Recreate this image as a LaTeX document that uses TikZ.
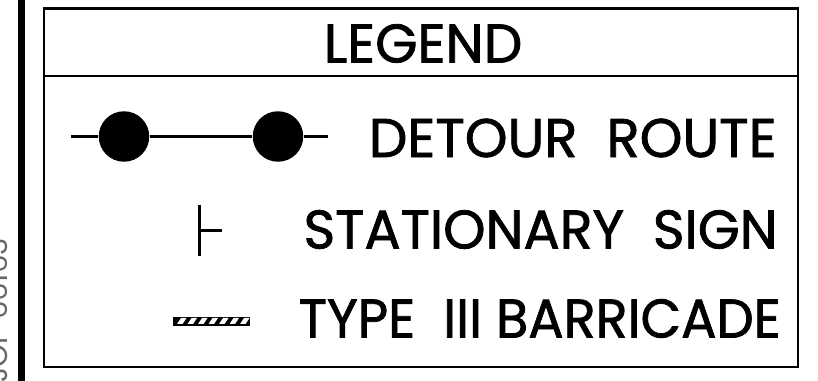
\documentclass[tikz,border=0pt]{standalone}
\usepackage{fontspec}
\setmainfont{Poppins}
\newfontfamily\legendfont[FakeBold=1.4]{Poppins}
\usetikzlibrary{positioning,patterns}
\tikzset{
	legendtext/.style={inner sep=0pt,font=\legendfont\fontsize{31}{31}\selectfont},
	routedot/.style={circle,fill=black,inner sep=0pt,minimum size=1.01cm},
	frameline/.style={line width=1.2pt}
}
\begin{document}
\begin{tikzpicture}[x=0.02cm,y=-0.02cm]
	\useasboundingbox (0,0) rectangle (818,381);
	\fill (18,0) rectangle (24.5,381);
	\node (jobno) at (8,383) [rotate=90,anchor=base west,inner sep=0pt,text=black!60,font=\fontsize{16.5}{16.5}\selectfont] {JOP 66163};
	\draw[frameline] (44,8.5) rectangle (798,367);
	\draw[frameline] (44,76) -- (798,76);
	\node (title) at (423,43.5) [legendtext] {LEGEND};
	\node (detour) at (777,138) [legendtext,anchor=east] {DETOUR\ \ ROUTE};
	\node (stationary) at (778,229.5) [legendtext,anchor=east] {\scalebox{0.99}[1]{STATIONARY\ \ SIGN}};
	\node (barricade) at (781,318.5) [legendtext,anchor=east] {\scalebox{0.965}[1]{TYPE\ \ III BARRICADE}};
	\coordinate (routeL) at (71,136.5);
	\coordinate (routeR) at (328,136.5);
	\node (dotA) at (124,136.5) [routedot] {};
	\node (dotB) at (278,136.5) [routedot] {};
	\draw[frameline] (routeL)--(dotA);
	\draw[frameline] (dotA)--(dotB);
	\draw[frameline] (dotB)--(routeR);
	\coordinate (postT) at (199.5,205);
	\coordinate (postB) at (199.5,256);
	\coordinate (postM) at (199.5,230.5);
	\coordinate (postE) at (222,230.5);
	\draw[frameline] (postT)--(postB);
	\draw[frameline] (postM)--(postE);
	\draw[line width=0.5pt,fill=black] (173,317) rectangle (249,325);
	\foreach \i in {0,1,...,6}
		\fill[white] ({181+\i*10.5},318) -- ({186.5+\i*10.5},318) -- ({182.5+\i*10.5},324) -- ({177+\i*10.5},324) -- cycle;
\end{tikzpicture}
\end{document}
